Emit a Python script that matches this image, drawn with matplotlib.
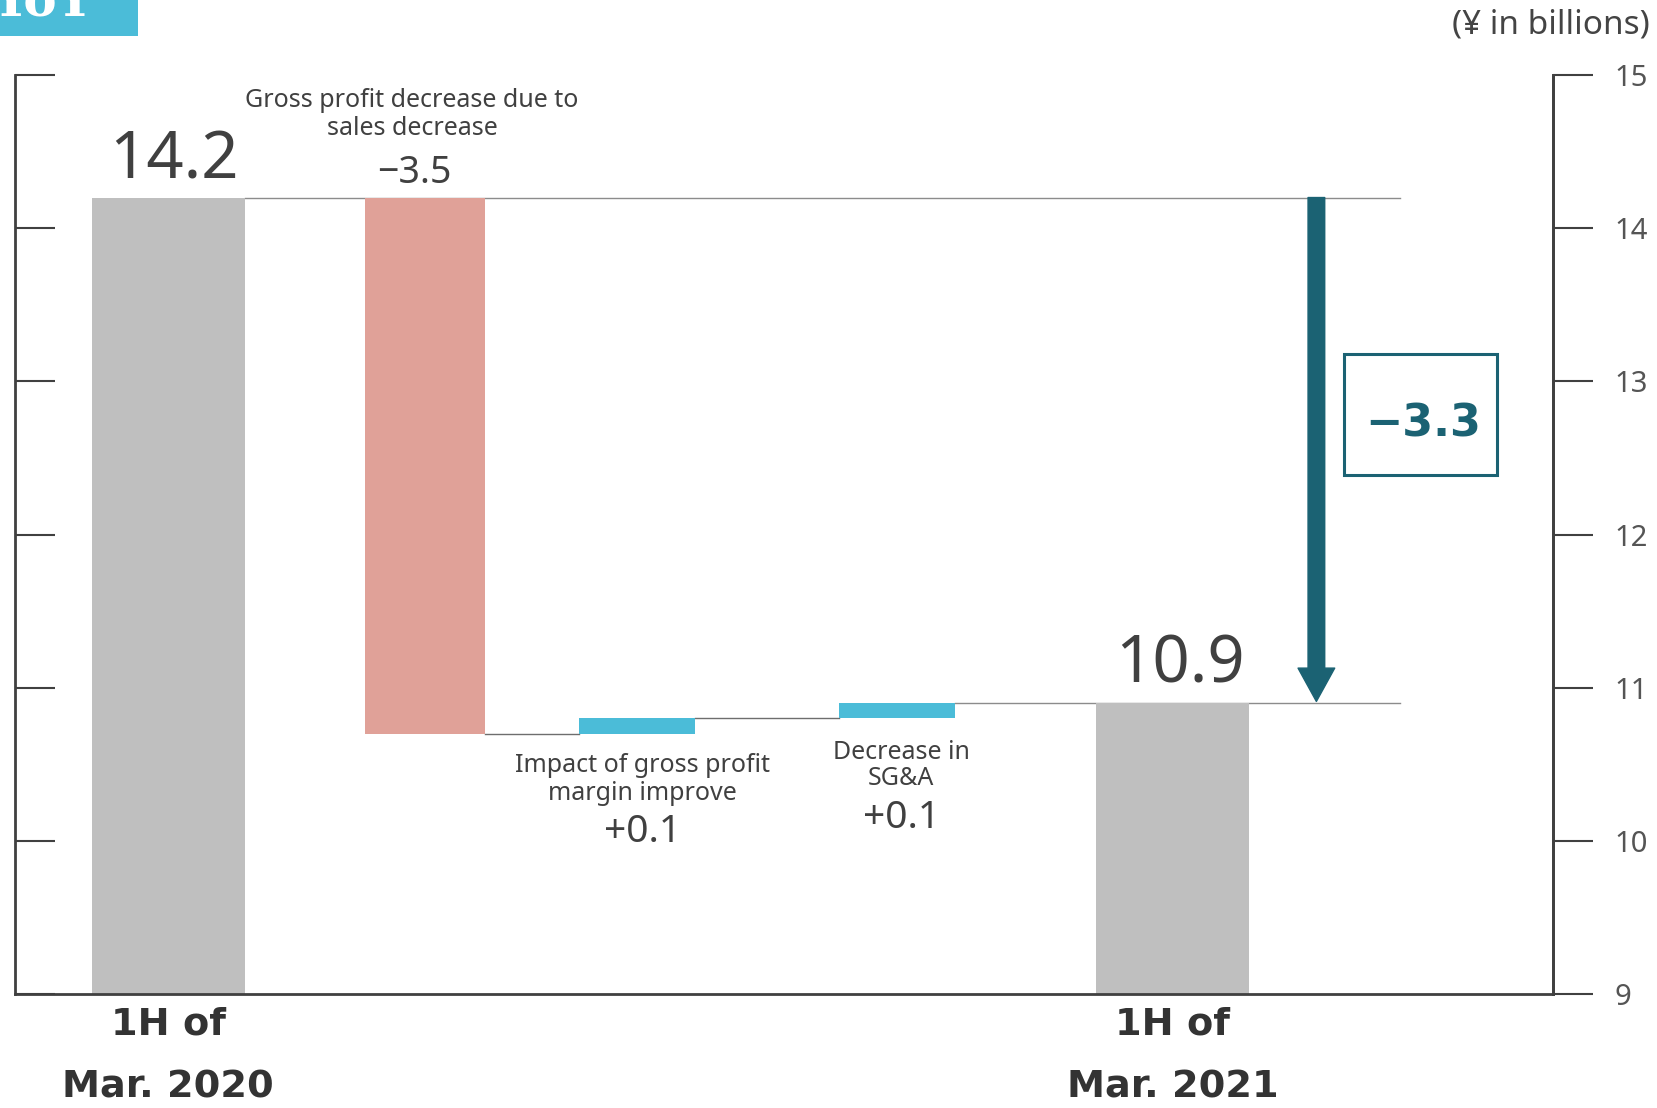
import matplotlib.pyplot as plt
from matplotlib.patches import Rectangle

plt.rcParams['font.family'] = ['Noto Sans', 'DejaVu Sans']

# values (¥ in billions)
start_value = 14.2
end_value = 10.9
step_values = [-3.5, 0.1, 0.1]
step_names = ['Gross profit decrease due to\nsales decrease',
              'Impact of gross profit\nmargin improve',
              'Decrease in\nSG&A']
step_labels = ['\u22123.5', '+0.1', '+0.1']
total_labels = ['14.2', '10.9']
period_labels = ['1H of\nMar. 2020', '1H of\nMar. 2021']
change_label = '\u22123.3'
yticks = [9, 10, 11, 12, 13, 14, 15]

# layout
x_total = [159, 1110]
w_total = 145
x_step = [402, 603, 849]
w_step = [113, 110, 110]
step_colors = ['#e0a198', '#4bbcd8', '#4bbcd8']
gray = '#bfbfbf'
teal = '#1b6273'
txt = '#404040'

fig = plt.figure(figsize=(16.57, 11.08), dpi=100)
ax = fig.add_axes([15 / 1657, 1 - 994 / 1108, (1553 - 15) / 1657, (994 - 75) / 1108])
ax.set_xlim(14, 1470)
ax.set_ylim(9, 15)

# total bars
ax.bar(x_total, [start_value, end_value], width=w_total, bottom=0, color=gray, zorder=2)

# step bars
level = start_value
levels = []
for x, w, v, c in zip(x_step, w_step, step_values, step_colors):
    lo, hi = min(level, level + v), max(level, level + v)
    ax.bar(x, hi - lo, width=w, bottom=lo, color=c, zorder=2)
    levels.append((level, level + v))
    level += v

# connector lines
ax.plot([x_total[0] + w_total / 2, 1325], [start_value, start_value], color='#8c8c8c', lw=1, zorder=1)
for i in range(len(x_step) - 1):
    y = levels[i][1]
    ax.plot([x_step[i] + w_step[i] / 2, x_step[i + 1] - w_step[i + 1] / 2], [y, y],
            color='#6e6e6e', lw=1, zorder=1)
ax.plot([x_step[-1] + w_step[-1] / 2, 1325], [end_value, end_value], color='#8c8c8c', lw=1, zorder=1)

# total labels
ax.text(x_total[0] + 5, start_value + 0.02, total_labels[0], ha='center', va='bottom',
        fontsize=47, color=txt)
ax.text(x_total[1] + 7, end_value + 0.03, total_labels[1], ha='center', va='bottom',
        fontsize=47, color=txt)

# step labels
ax.text(390, 14.74, step_names[0], ha='center', va='center', fontsize=18, color=txt,
        linespacing=1.15)
ax.text(392, 14.36, step_labels[0], ha='center', va='center', fontsize=27, color=txt)
ax.text(608, 10.40, step_names[1], ha='center', va='center', fontsize=18, color=txt,
        linespacing=1.15)
ax.text(608, 10.06, step_labels[1], ha='center', va='center', fontsize=28, color=txt)
ax.text(853, 10.49, step_names[2], ha='center', va='center', fontsize=18, color=txt,
        linespacing=1.05)
ax.text(853, 10.15, step_labels[2], ha='center', va='center', fontsize=28, color=txt)

# overall change arrow and box
ax.annotate('', xy=(1246, end_value + 0.01), xytext=(1246, start_value),
            arrowprops=dict(arrowstyle='simple,tail_width=0.5,head_width=1.1,head_length=1.0',
                            mutation_scale=24, color=teal, shrinkA=0, shrinkB=0), zorder=3)
ax.add_patch(Rectangle((1272, 12.386), 145, 13.18 - 12.386, facecolor='white',
                       edgecolor=teal, lw=2.2, zorder=3))
ax.text(1347, 12.72, change_label, ha='center', va='center', fontsize=32,
        fontweight='bold', color=teal, family='DejaVu Sans', zorder=4)

# axes styling
ax.spines['top'].set_visible(False)
for s in ['left', 'right', 'bottom']:
    ax.spines[s].set_color('#404040')
    ax.spines[s].set_linewidth(2)
ax.set_yticks(yticks)
ax.tick_params(axis='y', direction='in', length=29, width=1.5, color='#404040',
               left=True, right=False, labelleft=False)
ax.set_xticks(x_total)
ax.set_xticklabels(period_labels, fontsize=27.5, fontweight='bold', color='#333333',
                   family='DejaVu Sans', linespacing=1.95)
ax.tick_params(axis='x', length=0, pad=9)

ax2 = ax.twinx()
ax2.set_ylim(9, 15)
ax2.set_yticks(yticks)
ax2.tick_params(axis='y', direction='out', length=29, width=1.5, color='#404040',
                labelsize=21, labelcolor='#555555', pad=15)
for s in ['top', 'left', 'bottom']:
    ax2.spines[s].set_visible(False)
ax2.spines['right'].set_color('#404040')
ax2.spines['right'].set_linewidth(2)

fig.text(1650 / 1657, 1 - 25 / 1108, '(\u00a5 in billions)', ha='right', va='center',
         fontsize=24, color='#444444')

# header badge
fig.patches.append(Rectangle((0, 1 - 36 / 1108), 138 / 1657, 36 / 1108,
                             transform=fig.transFigure, facecolor='#4bbcd8',
                             edgecolor='none', zorder=0))
fig.text(-8 / 1657, 1 - 16 / 1108, 'YoY', ha='left', va='baseline', fontsize=36,
         fontweight='bold', color='white', family='DejaVu Serif')

fig.savefig('out.png', dpi=100)
